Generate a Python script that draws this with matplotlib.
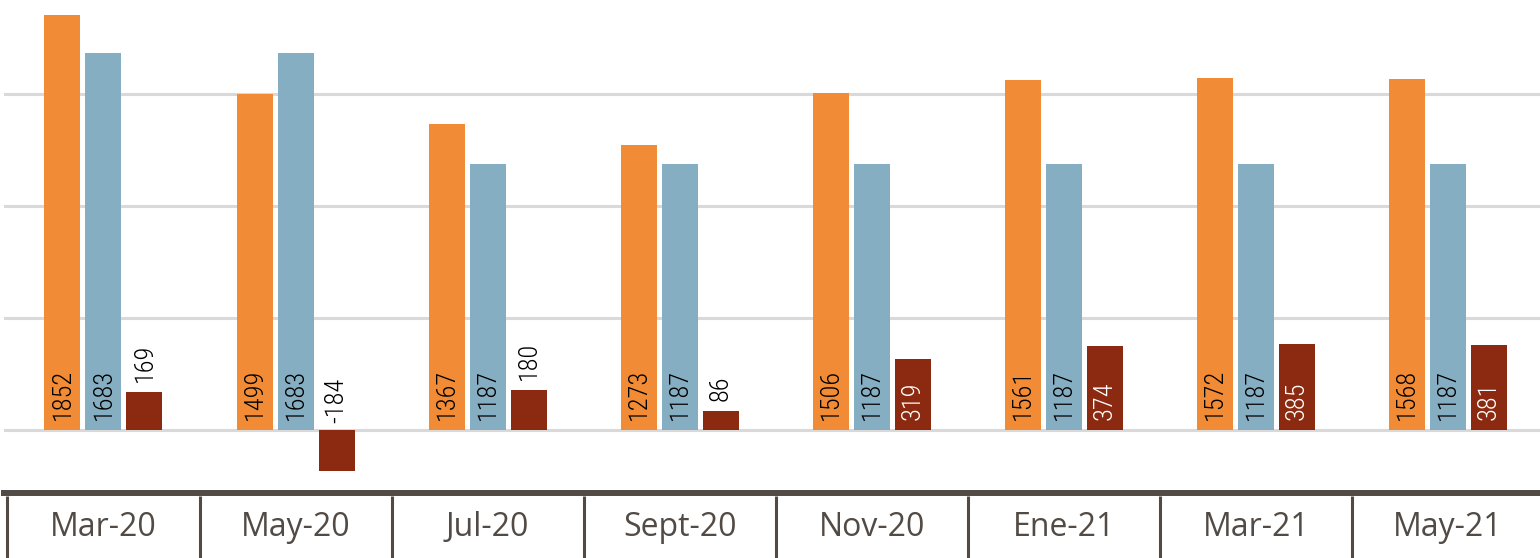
import matplotlib
matplotlib.use("Agg")
import matplotlib.pyplot as plt
import matplotlib.transforms as mtransforms
import numpy as np

categorias = ["Mar-20", "May-20", "Jul-20", "Sept-20", "Nov-20", "Ene-21", "Mar-21", "May-21"]
serie_a = [1852, 1499, 1367, 1273, 1506, 1561, 1572, 1568]
serie_b = [1683, 1683, 1187, 1187, 1187, 1187, 1187, 1187]
serie_c = [169, -184, 180, 86, 319, 374, 385, 381]

colores = ["#f28b35", "#86aec2", "#8b2a10"]
texto_oscuro = "#524a44"
fuente_num = ["Roboto Condensed", "DejaVu Sans"]
fuente_cat = ["Open Sans", "DejaVu Sans"]

W, H = 1540, 558
fig = plt.figure(figsize=(W / 100, H / 100), dpi=100)
fig.patch.set_facecolor("white")
# ejes: de x=4 a 1540 px, de y=0 a 493 px (desde arriba)
ax = fig.add_axes([4 / W, (H - 493) / H, (W - 4) / W, 493 / H])
ax.set_facecolor("white")

x = np.arange(len(categorias))
ancho = 36 / 192
paso = 41 / 192

# líneas de cuadrícula
for nivel in [0, 500, 1000, 1500, 2000]:
    ax.axhline(nivel, color="#d9d9d9", linewidth=2.2, zorder=1)

for i, serie in enumerate([serie_a, serie_b, serie_c]):
    pos = x + (i - 1) * paso
    ax.bar(pos, serie, width=ancho, color=colores[i], zorder=2)
    for xp, v in zip(pos, serie):
        if i < 2 or v >= 250:
            color_txt = "white" if i == 2 else "black"
            ax.annotate(str(v), (xp, 0), xytext=(0, 10), textcoords="offset pixels",
                        rotation=90, ha="center", va="bottom", fontsize=19,
                        family=fuente_num, weight="light", color=color_txt, zorder=3)
        else:
            base = max(v, 0)
            off = 10 if v > 0 else 7
            ax.annotate(str(v), (xp, base), xytext=(0, off), textcoords="offset pixels",
                        rotation=90, ha="center", va="bottom", fontsize=19,
                        family=fuente_num, weight="light", color="black", zorder=3)

ax.set_xlim(-0.518, 7.48)
ax.set_ylim(-281, 1920)
ax.set_xticks([])
ax.set_yticks([])
for lado in ["top", "right", "left"]:
    ax.spines[lado].set_visible(False)
ax.spines["bottom"].set_color(texto_oscuro)
ax.spines["bottom"].set_linewidth(4.3)

# tabla de categorías bajo el eje
trans = mtransforms.blended_transform_factory(ax.transData, ax.transAxes)
alto_ax = 493
for i, cat in enumerate(categorias):
    ax.text(i, -34 / alto_ax, cat, transform=trans, ha="center", va="center",
            fontsize=23, family=fuente_cat, color=texto_oscuro, clip_on=False)
for b in np.arange(len(categorias) + 1) - 0.5:
    ax.plot([b, b], [-3 / alto_ax, -70 / alto_ax], transform=trans, color=texto_oscuro,
            linewidth=2.2, clip_on=False, solid_capstyle="butt")

fig.savefig("out.png", dpi=100, facecolor=fig.get_facecolor())
plt.close(fig)
